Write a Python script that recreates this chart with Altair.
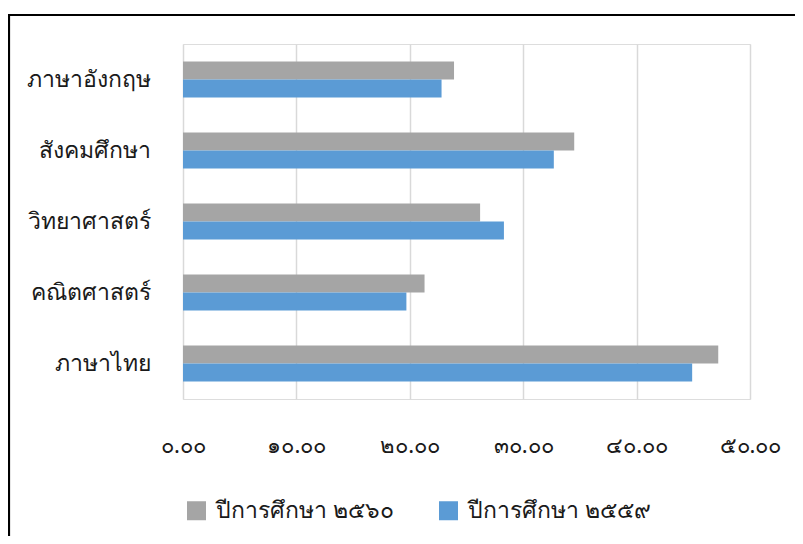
import altair as alt
import pandas as pd

subjects = ["ภาษาอังกฤษ", "สังคมศึกษา", "วิทยาศาสตร์", "คณิตศาสตร์", "ภาษาไทย"]
series_names = ["ปีการศึกษา ๒๕๖๐", "ปีการศึกษา ๒๕๕๙"]
values_2560 = [23.9, 34.5, 26.2, 21.3, 47.2]
values_2559 = [22.8, 32.7, 28.3, 19.7, 44.9]
tick_values = [0, 10, 20, 30, 40, 50]
tick_labels = ["๐.๐๐", "๑๐.๐๐", "๒๐.๐๐", "๓๐.๐๐", "๔๐.๐๐", "๕๐.๐๐"]
colors = ["#a5a5a5", "#5b9bd5"]

rows = []
for s, a, b in zip(subjects, values_2560, values_2559):
    rows.append({"subject": s, "series": series_names[0], "value": a})
    rows.append({"subject": s, "series": series_names[1], "value": b})
df = pd.DataFrame(rows)

FONT = "Noto Sans"
label_expr = "[" + ",".join("'%s'" % t for t in tick_labels) + "][round(datum.value/10)]"

bars = alt.Chart(df).mark_bar().encode(
    y=alt.Y("subject:N", sort=subjects, title=None,
            scale=alt.Scale(paddingInner=0.49, paddingOuter=0.245),
            axis=alt.Axis(ticks=False, domain=False, labelFontSize=23, labelColor="#1a1a1a",
                          labelPadding=33, labelFont=FONT, grid=False, labelLimit=300)),
    yOffset=alt.YOffset("series:N", sort=series_names,
                        scale=alt.Scale(paddingInner=0, paddingOuter=0)),
    x=alt.X("value:Q", title=None,
            scale=alt.Scale(domain=[0, 50], nice=False),
            axis=alt.Axis(values=tick_values, labelExpr=label_expr, ticks=False, domain=False,
                          grid=True, gridColor="#d9d9d9", gridWidth=1.5,
                          labelFontSize=22, labelColor="#1a1a1a", labelPadding=36,
                          labelFont=FONT, labelFlush=False, labelOverlap=False,
                          labelBound=False, labelLimit=300)),
    color=alt.Color("series:N", sort=series_names,
                    scale=alt.Scale(domain=series_names, range=colors),
                    legend=alt.Legend(title=None, orient="none", direction="horizontal",
                                      legendX=2, legendY=455, symbolType="square",
                                      symbolSize=361, symbolStrokeWidth=0, labelFontSize=23,
                                      labelFont=FONT, labelColor="#1a1a1a", labelOffset=8,
                                      columnPadding=43, padding=0, labelLimit=400)),
)

frame = alt.Chart(alt.Data(values=[{}])).mark_rule(color="#000000", strokeWidth=2.2, clip=False)
left_border = frame.encode(x=alt.value(-174), y=alt.value(-29), y2=alt.value(540))
top_border = frame.encode(x=alt.value(-175), x2=alt.value(700), y=alt.value(-29))

chart = alt.layer(bars, left_border, top_border).properties(
    width=567, height=355,
    autosize=alt.AutoSizeParams(type="none"),
    padding={"left": 175, "top": 36, "right": 45, "bottom": 137},
).configure_view(
    strokeWidth=0, stroke="transparent", strokeOpacity=0
).configure_axis(
    domain=False, ticks=False, domainColor="transparent", domainOpacity=0
).configure_axisY(
    grid=False
).configure(font=FONT)

chart.save("out.html", embed_options={"renderer": "svg", "actions": False})
